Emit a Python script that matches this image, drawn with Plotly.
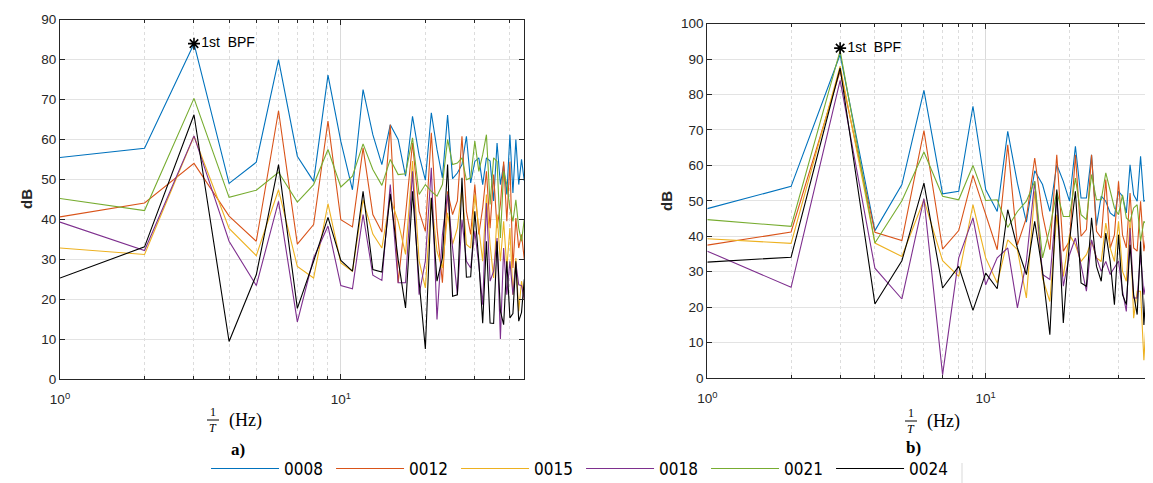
import numpy as np
import plotly.graph_objects as go

# ---------------- data ----------------
series_names = ["0008", "0012", "0015", "0018", "0021", "0024"]
colors = ["#0072BD", "#D95319", "#EDB120", "#7E2F8E", "#77AC30", "#000000"]

freq_a = list(range(1, 46))
freq_b = list(range(1, 44))

# panel a) levels (dB)
a_0008 = [55.5, 57.8, 84.0, 49.0, 54.3, 80.0, 55.8, 49.5, 76.1, 59.5, 47.4, 72.5, 61.2, 53.7, 63.7,
          60.0, 50.8, 65.8, 56.0, 49.8, 66.7, 57.5, 50.4, 66.1, 50.2, 51.6, 53.7, 60.8, 49.1, 54.5,
          55.4, 48.7, 55.4, 54.6, 44.6, 59.1, 48.7, 53.7, 46.2, 61.2, 46.6, 60.0, 48.7, 55.0, 49.6]
a_0012 = [40.6, 44.1, 54.0, 40.8, 34.5, 67.2, 33.8, 38.7, 64.6, 39.9, 38.1, 57.9, 41.2, 36.8, 63.7,
          24.1, 41.2, 59.1, 42.0, 37.0, 61.7, 37.8, 24.1, 47.0, 41.2, 44.6, 60.8, 42.0, 36.2, 48.7,
          36.2, 42.9, 52.0, 37.8, 51.2, 37.8, 43.7, 54.5, 39.5, 54.5, 27.8, 40.3, 32.8, 36.2, 30.0]
a_0015 = [32.8, 31.2, 60.8, 37.7, 30.9, 47.4, 28.2, 25.3, 43.9, 29.1, 27.0, 44.9, 36.3, 32.8, 45.4,
          39.5, 31.2, 54.6, 29.6, 22.8, 45.4, 32.0, 27.8, 41.6, 33.7, 37.8, 47.9, 33.7, 32.8, 46.2,
          37.8, 29.5, 46.2, 33.7, 25.3, 41.2, 29.5, 39.5, 27.8, 37.8, 21.1, 30.3, 17.0, 24.5, 20.0]
a_0018 = [39.3, 32.2, 60.9, 34.5, 23.4, 44.5, 14.3, 30.3, 38.3, 23.4, 22.6, 41.2, 26.0, 24.7, 48.7,
          24.1, 24.1, 52.0, 21.1, 29.6, 52.9, 14.9, 36.2, 46.2, 32.8, 21.1, 39.9, 29.5, 27.8, 37.0,
          28.6, 18.6, 44.1, 24.5, 27.0, 35.3, 10.0, 32.8, 21.1, 29.5, 21.1, 29.0, 23.6, 23.4, 20.0]
a_0021 = [45.2, 42.2, 70.3, 45.5, 47.3, 51.8, 44.3, 48.7, 57.5, 48.1, 50.8, 58.9, 52.5, 48.5, 55.0,
          51.2, 51.4, 60.4, 46.2, 48.7, 47.0, 45.8, 48.7, 60.0, 53.7, 54.1, 55.4, 49.9, 50.4, 59.6,
          52.0, 56.2, 61.2, 43.7, 55.4, 54.5, 35.3, 52.0, 48.7, 42.9, 39.5, 44.9, 37.8, 34.5, 40.0]
a_0024 = [25.3, 33.1, 66.2, 9.4, 26.1, 53.7, 17.7, 29.5, 40.5, 29.7, 27.0, 47.0, 27.4, 26.8, 46.4,
          29.9, 17.8, 47.0, 24.5, 7.5, 45.4, 24.5, 30.3, 53.7, 20.7, 21.1, 50.4, 25.5, 25.6, 42.0,
          29.5, 14.0, 34.5, 14.0, 13.9, 34.5, 17.0, 13.6, 29.5, 15.3, 16.4, 29.5, 14.5, 16.7, 25.0]

# panel b) levels (dB)
b_0008 = [47.8, 54.1, 91.3, 41.6, 54.6, 81.2, 52.0, 52.7, 76.7, 53.2, 47.0, 69.6, 55.0, 44.0, 58.5,
          54.6, 47.0, 60.2, 55.5, 49.9, 65.4, 50.8, 50.8, 63.0, 43.0, 51.3, 49.9, 46.6, 45.6, 52.7,
          51.3, 46.6, 60.2, 51.7, 49.9, 62.6, 49.9, 50.3, 61.6, 46.1, 52.7, 60.2, 50.0]
b_0012 = [37.5, 41.2, 86.6, 41.1, 38.8, 69.8, 36.4, 41.6, 57.2, 46.1, 36.2, 65.8, 37.6, 45.2, 62.1,
          46.1, 36.2, 63.0, 35.8, 38.6, 63.0, 40.0, 41.9, 63.0, 41.4, 39.5, 56.0, 36.7, 40.4, 55.5,
          40.4, 36.7, 52.2, 36.7, 35.8, 49.9, 35.8, 42.0, 51.7, 29.2, 38.6, 43.3, 35.0]
b_0015 = [39.3, 38.0, 88.0, 38.1, 34.3, 50.3, 33.1, 28.7, 48.9, 33.9, 26.8, 39.0, 36.2, 22.6, 52.7,
          28.2, 21.6, 46.1, 28.7, 40.4, 37.6, 32.9, 34.8, 38.6, 33.9, 32.9, 43.7, 36.7, 32.9, 44.2,
          30.1, 27.3, 44.7, 16.9, 24.5, 24.5, 5.0, 19.8, 36.7, 15.0, 24.5, 31.0, 25.0]
b_0018 = [35.8, 25.6, 84.0, 31.0, 22.3, 50.6, 0.9, 33.9, 45.2, 26.3, 33.9, 36.7, 19.8, 32.9, 55.5,
          29.2, 27.8, 50.8, 25.9, 34.8, 39.5, 32.0, 24.5, 39.0, 33.9, 30.1, 32.9, 29.2, 31.0, 33.0,
          24.5, 18.8, 42.3, 22.6, 22.6, 34.8, 23.5, 28.7, 22.6, 13.2, 31.0, 17.9, 22.0]
b_0021 = [44.7, 42.8, 92.4, 38.1, 50.0, 63.8, 51.3, 50.3, 60.0, 50.1, 50.3, 42.5, 47.0, 49.9, 55.5,
          33.9, 42.3, 52.7, 45.6, 45.6, 56.4, 46.1, 44.7, 57.4, 50.3, 50.3, 57.9, 52.7, 48.0, 46.1,
          51.7, 45.2, 44.2, 48.0, 48.9, 38.6, 44.2, 43.3, 37.6, 43.3, 46.1, 45.2, 45.0]
b_0024 = [32.7, 34.1, 87.5, 20.9, 33.1, 55.0, 25.4, 31.5, 19.1, 29.6, 25.2, 47.5, 36.7, 29.2, 44.2,
          30.1, 12.2, 53.2, 15.5, 38.6, 52.7, 26.8, 25.9, 45.2, 31.5, 27.3, 40.9, 32.9, 20.7, 40.4,
          23.5, 20.7, 37.6, 23.5, 17.9, 38.6, 15.0, 30.0, 37.6, 16.9, 22.6, 27.3, 20.0]

bpf_freq = 3
bpf_a = 84.0
bpf_b = 93.1
bpf_label = "1st  BPF"

yticks_a = list(range(0, 91, 10))
yticks_b = list(range(0, 101, 10))
xtick_vals = [1, 10]
xtick_text = ["10<sup>0</sup>", "10<sup>1</sup>"]
minor_vals = [2, 3, 4, 5, 6, 7, 8, 9, 20, 30, 40]

# ---------------- figure ----------------
W, H = 1153, 483
fig = go.Figure()

series_a = [a_0008, a_0012, a_0015, a_0018, a_0021, a_0024]
series_b = [b_0008, b_0012, b_0015, b_0018, b_0021, b_0024]

for name, col, ya in zip(series_names, colors, series_a):
    fig.add_trace(go.Scatter(x=freq_a, y=ya, mode="lines", name=name,
                             line=dict(color=col, width=1.1), xaxis="x", yaxis="y",
                             legendgroup=name, showlegend=True))
for name, col, yb in zip(series_names, colors, series_b):
    fig.add_trace(go.Scatter(x=freq_b, y=yb, mode="lines", name=name,
                             line=dict(color=col, width=1.1), xaxis="x2", yaxis="y2",
                             legendgroup=name, showlegend=False))

for xa, ya_, yv in [("x", "y", bpf_a), ("x2", "y2", bpf_b)]:
    fig.add_trace(go.Scatter(x=[bpf_freq], y=[yv], mode="markers+text", text=[bpf_label],
                             textposition="middle right",
                             textfont=dict(family="Liberation Sans, Arial, sans-serif", size=14, color="#000"),
                             marker=dict(symbol="asterisk-open", size=10, color="#000",
                                         line=dict(color="#000", width=1.6)),
                             xaxis=xa, yaxis=ya_, showlegend=False, hoverinfo="skip"))

axis_font = dict(family="Liberation Sans, Arial, sans-serif", size=13.5, color="#262626")
grid_col = "#e3e3e3"

def xaxis_cfg(domain, rng, anchor):
    return dict(type="log", domain=domain, range=rng, anchor=anchor, automargin=False,
                tickvals=xtick_vals, ticktext=xtick_text, ticks="inside", ticklen=5,
                tickcolor="#262626", tickfont=axis_font, ticklabelstandoff=8,
                showline=True, linecolor="#262626", linewidth=1, mirror="allticks",
                showgrid=True, gridcolor="#dadada", gridwidth=1,
                minor=dict(tickvals=minor_vals, ticks="inside", ticklen=3, tickcolor="#262626",
                           showgrid=True, gridcolor="#dcdcdc", griddash="dot", gridwidth=1),
                zeroline=False)

def yaxis_cfg(domain, rng, ticks_, anchor):
    return dict(domain=domain, range=rng, anchor=anchor, tickvals=ticks_, automargin=False,
                ticks="inside", ticklen=5, tickcolor="#262626", tickfont=axis_font,
                showline=True, linecolor="#262626", linewidth=1, mirror="allticks",
                showgrid=True, gridcolor=grid_col, gridwidth=1, zeroline=False)

xa_dom = [52 / W, 516 / W]
ya_dom = [(H - 371) / H, (H - 11.7) / H]
xb_dom = [699.3 / W, 1.0]
yb_dom = [(H - 370) / H, (H - 15.7) / H]

fig.update_layout(
    width=W, height=H,
    margin=dict(l=0, r=0, t=0, b=0, autoexpand=False),
    paper_bgcolor="white", plot_bgcolor="white",
    xaxis=xaxis_cfg(xa_dom, [0, np.log10(44.9)], "y"),
    yaxis=yaxis_cfg(ya_dom, [0, 90], yticks_a, "x"),
    xaxis2=xaxis_cfg(xb_dom, [0, (W - 699.3) / 278.4], "y2"),
    yaxis2=yaxis_cfg(yb_dom, [0, 100], yticks_b, "x2"),
    legend=dict(orientation="h", x=0.497, xanchor="center", y=(H - 461) / H, yanchor="middle",
                font=dict(family="Liberation Sans Narrow, DejaVu Sans Condensed, Arial Narrow, sans-serif",
                          size=17, color="#000"),
                entrywidth=42, entrywidthmode="pixels", itemwidth=68,
                bgcolor="rgba(0,0,0,0)", tracegroupgap=0),
    showlegend=True,
)

serif = "Liberation Serif, DejaVu Serif, serif"
ann = []
shapes = []

def add_xlabel(cx, cy, hzx, tag, tagx, tagy):
    # fraction 1/T
    ann.append(dict(text="1", x=cx / W, y=(H - (cy - 8)) / H, xref="paper", yref="paper",
                    showarrow=False, font=dict(family=serif, size=12, color="#000"),
                    xanchor="center", yanchor="middle"))
    ann.append(dict(text="<i>T</i>", x=cx / W, y=(H - (cy + 8)) / H, xref="paper", yref="paper",
                    showarrow=False, font=dict(family=serif, size=12, color="#000"),
                    xanchor="center", yanchor="middle"))
    shapes.append(dict(type="line", xref="paper", yref="paper",
                       x0=(cx - 6) / W, x1=(cx + 6) / W, y0=(H - cy) / H, y1=(H - cy) / H,
                       line=dict(color="#000", width=1)))
    ann.append(dict(text="(Hz)", x=hzx / W, y=(H - cy) / H, xref="paper", yref="paper",
                    showarrow=False, font=dict(family=serif, size=18, color="#000"),
                    xanchor="left", yanchor="middle"))
    ann.append(dict(text="<b>" + tag + "</b>", x=tagx / W, y=(H - tagy) / H, xref="paper", yref="paper",
                    showarrow=False, font=dict(family=serif, size=17, color="#000"),
                    xanchor="center", yanchor="middle"))

add_xlabel(205, 412, 219, "a)", 230, 441)
add_xlabel(903, 413, 917, "b)", 905, 439)

for x_, y_ in [(18, 191), (658, 193)]:
    ann.append(dict(text="<b>dB</b>", x=x_ / W, y=(H - y_) / H, xref="paper", yref="paper",
                    showarrow=False, textangle=-90,
                    font=dict(family="Liberation Sans, Arial, sans-serif", size=15, color="#262626"),
                    xanchor="center", yanchor="middle"))

# faint legend-box edge visible in the reference
shapes.append(dict(type="line", xref="paper", yref="paper",
                   x0=954 / W, x1=954 / W, y0=0, y1=(H - 455) / H,
                   line=dict(color="#d9d9d9", width=1)))

fig.update_layout(annotations=ann, shapes=shapes)
fig.write_html("out.html")
